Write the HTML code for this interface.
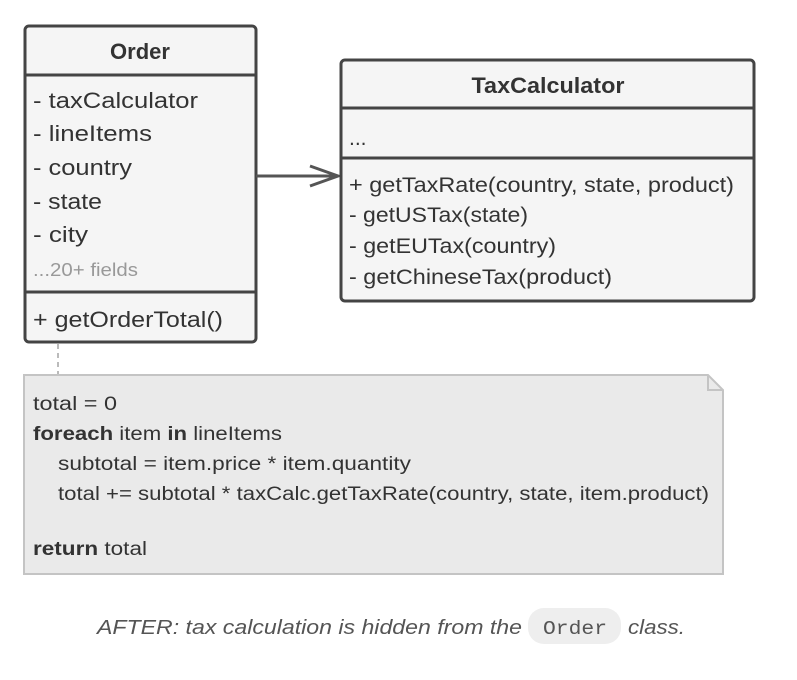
<!DOCTYPE html>
<html><head><meta charset="utf-8"><style>
html,body{margin:0;padding:0;background:#fff;}
svg{display:block;}
text{font-family:"Liberation Sans",sans-serif;fill:#333;}
</style></head><body>
<svg width="797" height="680" viewBox="0 0 797 680" xmlns="http://www.w3.org/2000/svg">
<!-- Order -->
<rect x="25" y="26" width="231" height="316" rx="4" fill="#f5f5f5" stroke="#444" stroke-width="3"/>
<line x1="25" y1="75" x2="256" y2="75" stroke="#444" stroke-width="3"/>
<line x1="25" y1="292" x2="256" y2="292" stroke="#444" stroke-width="3"/>
<text x="140" y="59" text-anchor="middle" font-size="22" font-weight="bold">Order</text>
<g font-size="22">
<text x="33" y="108" textLength="165" lengthAdjust="spacingAndGlyphs">- taxCalculator</text>
<text x="33" y="141" textLength="119" lengthAdjust="spacingAndGlyphs">- lineItems</text>
<text x="33" y="175" textLength="99" lengthAdjust="spacingAndGlyphs">- country</text>
<text x="33" y="209" textLength="69" lengthAdjust="spacingAndGlyphs">- state</text>
<text x="33" y="242" textLength="55" lengthAdjust="spacingAndGlyphs">- city</text>
<text x="33" y="276" font-size="18" style="fill:#999" textLength="105" lengthAdjust="spacingAndGlyphs">...20+ fields</text>
<text x="33" y="327" textLength="190" lengthAdjust="spacingAndGlyphs">+ getOrderTotal()</text>
</g>
<!-- arrow -->
<line x1="256" y1="176" x2="338" y2="176" stroke="#555" stroke-width="3"/>
<polyline points="310,166 338,176 310,186" fill="none" stroke="#555" stroke-width="3"/>
<!-- TaxCalculator -->
<rect x="341" y="60" width="413" height="241" rx="4" fill="#f5f5f5" stroke="#444" stroke-width="3"/>
<line x1="341" y1="108" x2="754" y2="108" stroke="#444" stroke-width="3"/>
<line x1="341" y1="158" x2="754" y2="158" stroke="#444" stroke-width="3"/>
<text x="548" y="93" text-anchor="middle" font-size="22" font-weight="bold" textLength="153" lengthAdjust="spacingAndGlyphs">TaxCalculator</text>
<g font-size="21">
<text x="349" y="145">...</text>
<text x="349" y="192" textLength="385" lengthAdjust="spacingAndGlyphs">+ getTaxRate(country, state, product)</text>
<text x="349" y="222" textLength="179" lengthAdjust="spacingAndGlyphs">- getUSTax(state)</text>
<text x="349" y="253" textLength="207" lengthAdjust="spacingAndGlyphs">- getEUTax(country)</text>
<text x="349" y="284" textLength="263" lengthAdjust="spacingAndGlyphs">- getChineseTax(product)</text>
</g>
<!-- dashed -->
<line x1="58" y1="344" x2="58" y2="374" stroke="#bbb" stroke-width="2" stroke-dasharray="5,4"/>
<!-- note -->
<path d="M24,375 L708,375 L723,390 L723,574 L24,574 Z" fill="#eaeaea" stroke="#c4c4c4" stroke-width="2"/>
<path d="M708,375 L708,390 L723,390" fill="none" stroke="#c4c4c4" stroke-width="2"/>
<g font-size="19">
<text x="33" y="410" textLength="84" lengthAdjust="spacingAndGlyphs">total = 0</text>
<text x="33" y="440" textLength="249" lengthAdjust="spacingAndGlyphs"><tspan font-weight="bold">foreach</tspan> item <tspan font-weight="bold">in</tspan> lineItems</text>
<text x="58" y="470" textLength="353" lengthAdjust="spacingAndGlyphs">subtotal = item.price * item.quantity</text>
<text x="58" y="500" textLength="651" lengthAdjust="spacingAndGlyphs">total += subtotal * taxCalc.getTaxRate(country, state, item.product)</text>
<text x="33" y="555" textLength="114" lengthAdjust="spacingAndGlyphs"><tspan font-weight="bold">return</tspan> total</text>
</g>
<!-- caption -->
<rect x="528" y="608" width="93" height="36" rx="16" fill="#eeeeee"/>
<text x="97" y="634" font-size="20" font-style="italic" style="fill:#555" textLength="425" lengthAdjust="spacingAndGlyphs">AFTER: tax calculation is hidden from the</text>
<text x="543" y="634" font-size="19" style="fill:#555;font-family:'Liberation Mono',monospace" textLength="64" lengthAdjust="spacingAndGlyphs">Order</text>
<text x="628" y="634" font-size="20" font-style="italic" style="fill:#555" textLength="57" lengthAdjust="spacingAndGlyphs">class.</text>
</svg>
</body></html>
